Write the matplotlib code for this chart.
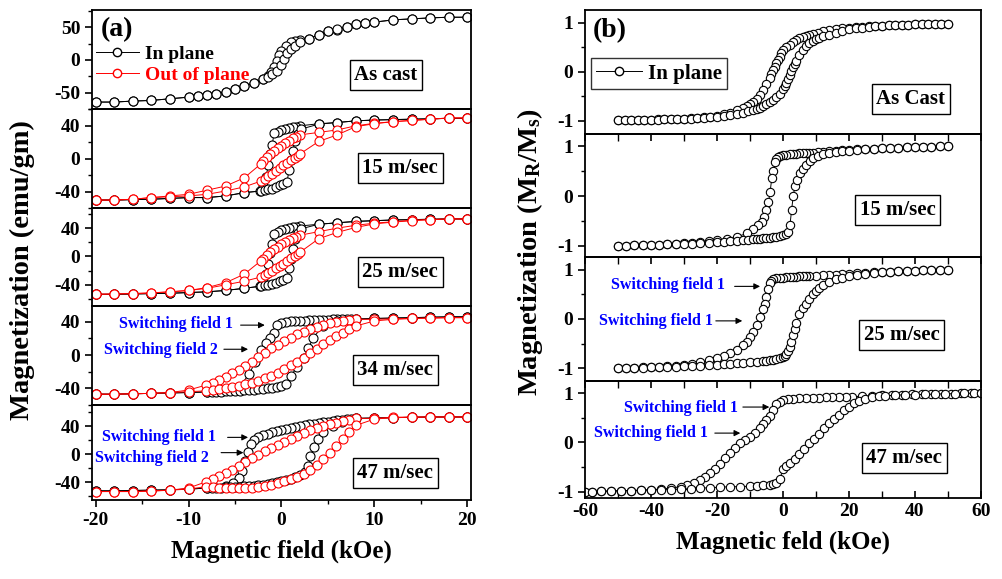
import matplotlib
matplotlib.use("Agg")
import matplotlib.pyplot as plt
from matplotlib.lines import Line2D
from matplotlib.ticker import MultipleLocator

plt.rcParams['font.family'] = ['Liberation Serif', 'DejaVu Serif']
plt.rcParams['font.weight'] = 'bold'
plt.rcParams['axes.unicode_minus'] = False
plt.rcParams['mathtext.fontset'] = 'custom'
plt.rcParams['mathtext.rm'] = 'Liberation Serif:bold'
plt.rcParams['mathtext.it'] = 'Liberation Serif:bold'

# ---------------- (a) left column, field in kOe, M in emu/gm ----------------
# as cast, in plane
ac_up_h = [20, 18, 16, 14, 12, 10, 9, 8, 7, 6, 5, 4, 3, 2, 1.5, 1, 0.5, 0, -0.3, -0.5, -0.8, -1.1, -1.5, -2, -3, -4,
           -5, -6, -7, -8, -9, -10, -12, -14, -16, -18, -20]
ac_up_m = [65, 65, 64, 62.5, 61, 57.5, 56, 54, 50, 46, 44, 38.5, 32.5, 31, 29, 27, 22, 14, 7, -2, -11, -19, -24, -28.5,
           -35, -40, -44, -48.5, -51, -53.5, -55, -56.5, -59, -61.5, -62.5, -64, -64]
ac_lo_h = [-20, -18, -16, -14, -12, -10, -9, -8, -7, -6, -5, -4, -3, -2, -1.5, -1, -0.5, -0.1, 0.3, 0.6, 1, 1.5, 2, 3,
           4, 5, 6, 7, 8, 9, 10, 12, 14, 16, 18, 20]
ac_lo_m = [-64, -64, -62.5, -61.5, -59, -56.5, -55, -53.5, -51, -48.5, -44, -40, -35, -29, -26, -22, -16, -8, 2, 10,
           16, 22, 27, 32.5, 38.5, 44, 47, 50, 54, 56, 57.5, 61, 62.5, 64, 65, 65]

# 15 m/sec
s15_ip_up_h = [20, 18, 16, 14, 12, 10, 8, 6, 4, 2, 1.6, 1.2, 0.8, 0.4, 0, -0.4, -0.8, -1.0, -1.2, -1.4, -1.7, -2.0,
               -2.3, -4, -6, -8, -10, -12, -14, -16, -18, -20]
s15_ip_up_m = [49, 49, 48.5, 48, 47.5, 47, 46, 44, 42.5, 40, 39, 38, 37, 36, 35, 33, 31, 17, 6, -8, -22, -33, -39,
               -41, -45, -47, -47, -48, -49, -49.5, -50, -50]
s15_ip_lo_h = [-20, -18, -16, -14, -12, -10, -8, -6, -4, -2.2, -1.8, -1.4, -1.0, -0.6, -0.2, 0.2, 0.6, 0.8, 1.0, 1.2,
               1.5, 1.8, 2.1, 4, 6, 8, 10, 12, 14, 16, 18, 20]
s15_ip_lo_m = [-50, -50, -49.5, -49, -48, -47, -47, -45, -41, -39, -38, -37, -36, -34, -32, -30, -28, -14, -2, 10,
               22, 30, 36, 42, 44, 46, 47, 47.5, 48, 48.5, 49, 49]
s15_op_up_h = [20, 18, 16, 14, 12, 10, 8, 6, 4, 2, 1.6, 1.2, 0.8, 0.4, 0, -0.4, -0.8, -1.2, -1.6, -2.0, -2.2, -4, -6,
               -8, -10, -12, -14, -16, -18, -20]
s15_op_up_m = [49.5, 49.5, 48, 46.5, 45, 43, 40, 35, 32, 29, 27, 25, 22, 19, 16, 13, 10, 6, 2, -3, -6, -23, -33, -38,
               -43, -45, -47, -49, -50, -50]
s15_op_lo_h = [-20, -18, -16, -14, -12, -10, -8, -6, -4, -2.2, -1.8, -1.4, -1.0, -0.6, -0.2, 0.2, 0.6, 1.0, 1.4, 1.8,
               2.0, 4, 6, 8, 10, 12, 14, 16, 18, 20]
s15_op_lo_m = [-50, -50, -49, -47, -46, -45, -43, -39, -34, -27, -24, -21, -18, -15, -11, -8, -5, -2, 1, 4, 6, 21,
               29, 39, 42.5, 45, 46.5, 48, 49.5, 49.5]

# 25 m/sec
s25_ip_up_h = s15_ip_up_h
s25_ip_up_m = [53, 53, 52.5, 52, 51.5, 50.5, 49.5, 47.5, 45.5, 43, 42, 41, 40, 38.5, 37, 35, 32, 18, 5, -10, -25,
               -36, -42, -45, -48, -50, -51, -52, -52.5, -53, -53.5, -53.5]
s25_ip_lo_h = s15_ip_lo_h
s25_ip_lo_m = [-53.5, -53.5, -53, -52.5, -52, -51, -50, -48, -45, -42, -41, -40, -38.5, -37, -35, -33, -30, -16, -3,
               10, 24, 33, 39, 45.5, 47.5, 49.5, 50.5, 51.5, 52, 52.5, 53, 53]
s25_op_up_h = s15_op_up_h
s25_op_up_m = [53, 53, 52, 51, 49, 47, 44, 40, 35, 30, 28, 25.5, 23, 20, 17, 13.5, 10, 6, 2, -3, -6, -25, -37, -44,
               -48, -50, -51.5, -52.5, -53, -53.5]
s25_op_lo_h = s15_op_lo_h
s25_op_lo_m = [-53.5, -53, -52.5, -51.5, -50, -48, -45, -40, -35, -29, -26, -23, -20, -17, -13.5, -10, -6, -2.5, 1,
               4, 6, 25, 34, 41, 46, 48.5, 50.5, 52, 53, 53]

# 34 m/sec
s34_ip_up_h = [20, 18, 16, 14, 12, 10, 8, 7.5, 7, 6.5, 6, 5.5, 5, 4.5, 4, 3.5, 3, 2.5, 2, 1.5, 1, 0.5, 0, -0.5,
               -0.8, -1.2, -1.7, -2.2, -2.8, -3.5, -4.5, -6, -8, -10, -12, -14, -16, -18, -20]
s34_ip_up_m = [46, 46, 45.5, 45, 44.5, 44, 43.5, 43.5, 43.5, 43, 43, 43, 42.5, 42.5, 42.5, 42, 42, 41.5, 41.5, 41,
               40.5, 40, 39, 36, 27, 21, 14, 6, -8, -23, -38, -42, -44, -45, -45.5, -46, -46.5, -47, -47]
s34_ip_lo_h = [-20, -18, -16, -14, -12, -10, -8, -7.5, -7, -6.5, -6, -5.5, -5, -4.5, -4, -3.5, -3, -2.5, -2, -1.5,
               -1, -0.5, 0, 0.5, 1, 1.7, 2.4, 2.9, 3.4, 4.5, 6, 8, 10, 12, 14, 16, 18, 20]
s34_ip_lo_m = [-47, -47, -46.5, -46, -45.5, -45, -44.5, -44.5, -44, -44, -43.5, -43.5, -43, -43, -42.5, -42, -41.5,
               -41, -40.5, -40, -39, -38, -37, -35, -25, -14, -4, 8, 21, 35, 41, 43, 44, 44.5, 45, 45.5, 46, 46]
s34_op_up_h = [20, 18, 16, 14, 12, 10, 8, 7.3, 6.6, 5.9, 5.2, 4.5, 3.8, 3.1, 2.4, 1.7, 1.0, 0.3, -0.4, -1.1, -1.8,
               -2.5, -3.2, -3.9, -4.6, -5.3, -6.0, -6.7, -7.4, -8.1, -10, -12, -14, -16, -18, -20]
s34_op_up_m = [45, 45, 44.5, 44, 43.5, 43, 43, 42.5, 41, 39.5, 38, 36, 33.5, 31, 28, 25, 21, 17, 12.5, 8, 3, -2, -8,
               -13.5, -18, -22, -26, -29.5, -33, -36, -42, -45, -46, -46.5, -47, -47]
s34_op_lo_h = [-20, -18, -16, -14, -12, -10, -8.1, -7.4, -6.7, -6.0, -5.3, -4.6, -3.9, -3.2, -2.5, -1.8, -1.1, -0.4,
               0.3, 1.0, 1.7, 2.4, 3.1, 3.8, 4.5, 5.2, 5.9, 6.6, 7.3, 8, 10, 12, 14, 16, 18, 20]
s34_op_lo_m = [-47, -47, -46.5, -46, -45, -44, -43, -42, -41, -40, -38.5, -37, -35, -33, -31, -28, -25, -21, -17,
               -12.5, -8, -3, 2, 7.5, 13, 18.5, 23, 27, 31, 35, 41, 43, 44, 44.5, 45, 45]

# 47 m/sec
s47_ip_up_h = [20, 18, 16, 14, 12, 10, 8, 7.5, 7, 6.5, 6, 5.5, 5, 4.5, 4, 3.5, 3, 2.5, 2, 1.5, 1, 0.5, 0, -0.5, -1,
               -1.5, -2, -2.5, -3, -3.3, -3.6, -3.9, -4.2, -4.6, -5.2, -6, -8, -10, -12, -14, -16, -18, -20]
s47_ip_up_m = [53, 53, 53, 52.5, 52, 51.5, 51, 50.5, 50, 49, 48.5, 47.5, 46.5, 45.5, 44.5, 43.5, 42.5, 41.5, 40.5,
               39, 37.5, 36, 34.5, 33, 31, 29, 27, 24, 20, 14, 3, -10, -24, -34, -41, -45, -48, -49.5, -50.5, -51,
               -51.5, -52, -52]
s47_ip_lo_h = [-20, -18, -16, -14, -12, -10, -8, -7.5, -7, -6.5, -6, -5.5, -5, -4.5, -4, -3.5, -3, -2.5, -2, -1.5,
               -1, -0.5, 0, 0.5, 1, 1.5, 2, 2.5, 2.9, 3.1, 3.5, 3.9, 4.5, 5.5, 6.5, 8, 10, 12, 14, 16, 18, 20]
s47_ip_lo_m = [-52, -52, -51.5, -51, -50.5, -49.5, -48, -48, -47.5, -47.5, -47, -47, -46.5, -46, -45.5, -45, -44.5,
               -44, -43, -42, -41, -40, -38.5, -37, -35, -33, -30, -25, -17, -3, 11, 22, 32, 40, 46, 51, 51.5, 52,
               52.5, 53, 53, 53]
s47_op_up_h = s34_op_up_h
s47_op_up_m = [53, 53, 53, 53, 52.5, 51, 51, 49, 47, 45, 42.5, 40, 37, 34, 30, 26, 22, 17, 13, 9, 4, -1, -6, -11,
               -17, -22, -27, -31, -35, -39, -48, -51, -52, -53, -53, -53]
s47_op_lo_h = s34_op_lo_h
s47_op_lo_m = [-53, -53, -53, -52.5, -51, -49.5, -46, -47, -47.5, -48, -48, -48, -48, -47.5, -47, -45.5, -43.5, -41,
               -38.5, -35.5, -32, -28, -22, -15, -7, 2, 12, 22, 32, 41, 50, 52, 52.5, 53, 53, 53]

# ---------------- (b) right column, M_R/M_s ----------------
b_ac_up_h = [50, 48, 46, 44, 42, 40, 38, 36, 34, 32, 30, 28, 26, 24, 22, 20, 18, 16, 14, 12, 10.5, 9, 8, 7, 6, 5, 4,
             3, 2, 1, 0, -0.5, -1, -1.5, -2, -2.5, -3, -3.5, -4, -5, -6, -7, -8, -9, -10, -11, -12, -14, -16, -18,
             -20, -22, -24, -26, -28, -30, -32, -34, -36, -38, -40, -42, -44, -46, -48, -50]
b_ac_up_m = [0.98, 0.98, 0.98, 0.97, 0.97, 0.97, 0.96, 0.96, 0.95, 0.95, 0.94, 0.93, 0.93, 0.92, 0.91, 0.9, 0.89,
             0.87, 0.85, 0.83, 0.8, 0.77, 0.75, 0.73, 0.71, 0.68, 0.64, 0.6, 0.55, 0.5, 0.44, 0.38, 0.31, 0.24, 0.17,
             0.1, 0.03, -0.05, -0.12, -0.25, -0.37, -0.47, -0.55, -0.61, -0.66, -0.7, -0.73, -0.79, -0.84, -0.87,
             -0.9, -0.92, -0.93, -0.94, -0.95, -0.96, -0.96, -0.97, -0.97, -0.97, -0.98, -0.98, -0.98, -0.98, -0.99,
             -0.99]
b_ac_lo_h = [-50, -48, -46, -44, -42, -40, -38, -36, -34, -32, -30, -28, -26, -24, -22, -20, -18, -16, -14, -12,
             -10.5, -9, -8, -7, -6, -5, -4, -3, -2, -1, 0, 0.5, 1, 1.5, 2, 2.5, 3, 3.5, 4, 5, 6, 7, 8, 9, 10, 11, 12,
             14, 16, 18, 20, 22, 24, 26, 28, 30, 32, 34, 36, 38, 40, 42, 44, 46, 48, 50]
b_ac_lo_m = [-0.99, -0.99, -0.99, -0.98, -0.98, -0.98, -0.98, -0.97, -0.97, -0.97, -0.96, -0.96, -0.95, -0.94,
             -0.93, -0.92, -0.91, -0.89, -0.87, -0.84, -0.81, -0.78, -0.76, -0.73, -0.7, -0.66, -0.62, -0.57, -0.51,
             -0.45, -0.36, -0.3, -0.22, -0.15, -0.06, 0.02, 0.09, 0.15, 0.22, 0.34, 0.45, 0.53, 0.58, 0.63, 0.66,
             0.69, 0.72, 0.76, 0.8, 0.84, 0.87, 0.89, 0.9, 0.92, 0.93, 0.94, 0.95, 0.95, 0.96, 0.96, 0.97, 0.97,
             0.97, 0.98, 0.98, 0.98]

b15_up_h = [50, 47.5, 45, 42.5, 40, 37.5, 35, 32.5, 30, 27.5, 25, 22.5, 20, 18, 16, 14, 12, 10.5, 9, 8, 7, 6, 5, 4,
            3, 2, 1, 0, -1, -1.5, -2, -2.4, -2.9, -3.4, -3.9, -4.4, -5.2, -5.8, -6.5, -7.5, -9, -11, -14, -17, -20,
            -22.5, -25, -27.5, -30, -32.5, -35, -37.5, -40, -42.5, -45, -47.5, -50]
b15_up_m = [1.0, 1.0, 0.99, 0.99, 0.98, 0.98, 0.97, 0.97, 0.96, 0.95, 0.95, 0.94, 0.93, 0.92, 0.91, 0.9, 0.89, 0.88,
            0.87, 0.87, 0.86, 0.86, 0.86, 0.85, 0.85, 0.84, 0.83, 0.82, 0.8, 0.78, 0.75, 0.68, 0.5, 0.36, 0.09,
            -0.12, -0.28, -0.42, -0.52, -0.59, -0.67, -0.75, -0.82, -0.86, -0.89, -0.91, -0.93, -0.94, -0.95, -0.96,
            -0.97, -0.98, -0.98, -0.99, -0.99, -1.0, -1.0]
b15_lo_h = [-50, -47.5, -45, -42.5, -40, -37.5, -35, -32.5, -30, -27.5, -25, -22.5, -20, -18, -16, -14, -12, -10.5,
            -9, -8, -7, -6, -5, -4, -3, -2, -1, 0, 0.8, 1.6, 2.1, 2.6, 3.1, 3.6, 4.1, 5.1, 6.1, 7.1, 8.2, 9.2, 10.5,
            12, 14, 16, 18, 20, 22.5, 25, 27.5, 30, 32.5, 35, 37.5, 40, 42.5, 45, 47.5, 50]
b15_lo_m = [-1.0, -1.0, -0.99, -0.99, -0.98, -0.98, -0.97, -0.97, -0.96, -0.96, -0.95, -0.94, -0.93, -0.92, -0.91,
            -0.9, -0.89, -0.88, -0.87, -0.86, -0.86, -0.85, -0.85, -0.84, -0.83, -0.82, -0.81, -0.79, -0.77, -0.73,
            -0.59, -0.28, 0.0, 0.2, 0.33, 0.46, 0.55, 0.62, 0.7, 0.76, 0.8, 0.84, 0.87, 0.89, 0.9, 0.91, 0.93, 0.94,
            0.95, 0.96, 0.97, 0.97, 0.98, 0.98, 0.99, 0.99, 1.0, 1.0]

b25_up_h = [50, 47.5, 45, 42.5, 40, 37.5, 35, 32.5, 30, 27.5, 25, 22.5, 20, 18, 16, 14, 12, 10, 8, 7, 6, 5, 4, 3, 2,
            1, 0, -1, -2, -3, -3.5, -4, -4.5, -5, -5.5, -6, -7, -8, -9, -10, -11, -12, -14, -16, -18, -20, -22.5,
            -25, -27.5, -30, -32.5, -35, -37.5, -40, -42.5, -45, -47.5, -50]
b25_up_m = [1.0, 1.0, 0.99, 0.99, 0.98, 0.98, 0.97, 0.96, 0.96, 0.95, 0.94, 0.93, 0.92, 0.91, 0.9, 0.9, 0.89, 0.88,
            0.88, 0.87, 0.87, 0.87, 0.86, 0.86, 0.85, 0.85, 0.84, 0.83, 0.82, 0.8, 0.77, 0.72, 0.6, 0.45, 0.3, 0.2,
            0.04, -0.12, -0.26, -0.37, -0.46, -0.53, -0.63, -0.7, -0.75, -0.8, -0.84, -0.88, -0.91, -0.93, -0.95,
            -0.96, -0.97, -0.98, -0.98, -0.99, -1.0, -1.0]
b25_lo_h = [-50, -47.5, -45, -42.5, -40, -37.5, -35, -32.5, -30, -27.5, -25, -22.5, -20, -18, -16, -14, -12, -10,
            -8, -6, -5, -4, -3, -2, -1, 0, 0.5, 1, 1.5, 2, 2.5, 3, 3.5, 4, 5, 6, 7, 8, 9, 10, 11, 12, 14, 16, 18, 20,
            22.5, 25, 27.5, 30, 32.5, 35, 37.5, 40, 42.5, 45, 47.5, 50]
b25_lo_m = [-1.0, -1.0, -0.99, -0.99, -0.98, -0.98, -0.97, -0.97, -0.96, -0.96, -0.95, -0.94, -0.93, -0.92, -0.91,
            -0.9, -0.89, -0.88, -0.87, -0.86, -0.85, -0.84, -0.83, -0.82, -0.8, -0.78, -0.76, -0.72, -0.66, -0.58,
            -0.46, -0.32, -0.2, -0.09, 0.1, 0.22, 0.31, 0.4, 0.5, 0.57, 0.63, 0.68, 0.75, 0.8, 0.84, 0.87, 0.9,
            0.92, 0.94, 0.95, 0.96, 0.97, 0.98, 0.98, 0.99, 0.99, 1.0, 1.0]

b47_up_h = [60, 57, 54, 51, 48, 45, 42, 39, 36, 33, 30, 27, 24, 21, 19, 17, 15, 13, 11, 9, 7, 5, 3, 1.5, 0, -1, -2,
            -3, -4, -5, -6, -7, -8.5, -10, -11.5, -13, -14.5, -16, -17.5, -19, -20.5, -22, -23.5, -25, -27, -29,
            -31, -34, -37, -40, -43, -46, -49, -52, -55, -58, -60]
b47_up_m = [1.0, 1.0, 1.0, 0.99, 0.99, 0.99, 0.98, 0.98, 0.97, 0.97, 0.96, 0.95, 0.94, 0.93, 0.93, 0.92, 0.92, 0.92,
            0.91, 0.91, 0.9, 0.9, 0.89, 0.88, 0.86, 0.83, 0.78, 0.66, 0.53, 0.46, 0.38, 0.29, 0.2, 0.12, 0.05,
            -0.02, -0.12, -0.22, -0.32, -0.43, -0.53, -0.62, -0.7, -0.76, -0.82, -0.87, -0.9, -0.93, -0.95, -0.96,
            -0.97, -0.98, -0.98, -0.99, -0.99, -1.0, -1.0]
b47_lo_h = [-60, -58, -55, -52, -49, -46, -43, -40, -37, -34, -31, -28, -25, -22, -19, -16, -13, -10, -8, -6, -4,
            -3, -2, -1, 0, 1, 2, 3.5, 5, 6.5, 8, 9.5, 11, 12.5, 14, 15.5, 17, 18.5, 20, 21.5, 23, 25, 27, 29, 31,
            34, 37, 40, 43, 46, 49, 52, 55, 58, 60]
b47_lo_m = [-1.0, -1.0, -0.99, -0.99, -0.98, -0.98, -0.97, -0.97, -0.96, -0.96, -0.95, -0.94, -0.93, -0.92, -0.91,
            -0.9, -0.9, -0.89, -0.88, -0.87, -0.86, -0.85, -0.83, -0.75, -0.55, -0.47, -0.42, -0.33, -0.23, -0.13,
            -0.02, 0.08, 0.18, 0.29, 0.39, 0.48, 0.56, 0.65, 0.73, 0.8, 0.85, 0.89, 0.92, 0.94, 0.95, 0.96, 0.97,
            0.97, 0.98, 0.98, 0.99, 0.99, 1.0, 1.0, 1.0]

left_labels = ["As cast", "15 m/sec", "25 m/sec", "34 m/sec", "47 m/sec"]
right_labels = ["As Cast", "15 m/sec", "25 m/sec", "47 m/sec"]

W, H = 1003, 579
fig = plt.figure(figsize=(W / 100, H / 100), dpi=100)


def px_axes(x0, x1, y0, y1):
    return fig.add_axes([x0 / W, 1 - y1 / H, (x1 - x0) / W, (y1 - y0) / H])


def loop(ax, h, m, color, ms=6.5):
    ax.plot(h, m, '-', color=color, lw=0.7, marker='o', ms=ms, mfc='white', mec=color, mew=0.8)


def label_box(ax, x, y, s):
    ax.text(x, y, s, transform=ax.transAxes, ha='center', va='center', fontsize=15, fontweight='bold',
            bbox=dict(boxstyle='square,pad=0.22', fc='white', ec='black', lw=1.0), zorder=5)


def style(ax):
    for sp in ax.spines.values():
        sp.set_linewidth(1.3)
    ax.tick_params(axis='both', which='major', labelsize=14, width=1.2, length=5, direction='out')
    ax.tick_params(axis='both', which='minor', width=1.0, length=3, direction='out')
    ax.tick_params(right=False, top=False)


# left column
left_edges = [10, 109.3, 208.3, 306, 405, 500]
left_ylims = [(-75, 76), (-60, 60), (-70, 68), (-60, 59), (-65, 70)]
left_curves = [
    [(ac_up_h, ac_up_m, 'black'), (ac_lo_h, ac_lo_m, 'black')],
    [(s15_ip_up_h, s15_ip_up_m, 'black'), (s15_ip_lo_h, s15_ip_lo_m, 'black'),
     (s15_op_up_h, s15_op_up_m, 'red'), (s15_op_lo_h, s15_op_lo_m, 'red')],
    [(s25_ip_up_h, s25_ip_up_m, 'black'), (s25_ip_lo_h, s25_ip_lo_m, 'black'),
     (s25_op_up_h, s25_op_up_m, 'red'), (s25_op_lo_h, s25_op_lo_m, 'red')],
    [(s34_ip_up_h, s34_ip_up_m, 'black'), (s34_ip_lo_h, s34_ip_lo_m, 'black'),
     (s34_op_up_h, s34_op_up_m, 'red'), (s34_op_lo_h, s34_op_lo_m, 'red')],
    [(s47_ip_up_h, s47_ip_up_m, 'black'), (s47_ip_lo_h, s47_ip_lo_m, 'black'),
     (s47_op_up_h, s47_op_up_m, 'red'), (s47_op_lo_h, s47_op_lo_m, 'red')],
]
left_box_pos = [(0.776, 0.345), (0.813, 0.407), (0.813, 0.348), (0.80, 0.354), (0.80, 0.284)]
left_axes = []
for i in range(5):
    ax = px_axes(92, 471, left_edges[i], left_edges[i + 1])
    for h, m, c in left_curves[i]:
        loop(ax, h, m, c)
    ax.set_xlim(-20.4, 20.4)
    ax.set_ylim(*left_ylims[i])
    if i == 0:
        ax.yaxis.set_major_locator(MultipleLocator(50))
        ax.yaxis.set_minor_locator(MultipleLocator(25))
    else:
        ax.yaxis.set_major_locator(MultipleLocator(40))
        ax.yaxis.set_minor_locator(MultipleLocator(20))
    ax.xaxis.set_major_locator(MultipleLocator(10))
    ax.xaxis.set_minor_locator(MultipleLocator(5))
    style(ax)
    if i < 4:
        ax.tick_params(axis='x', which='both', bottom=False, labelbottom=False)
    ax.patch.set_alpha(0)
    label_box(ax, left_box_pos[i][0], left_box_pos[i][1], left_labels[i])
    left_axes.append(ax)

left_axes[0].text(0.066, 0.80, "(a)", transform=left_axes[0].transAxes, ha='center', va='center', fontsize=20,
                  fontweight='bold')
leg = left_axes[0].legend(
    [Line2D([], [], color='black', lw=0.7, marker='o', ms=6, mfc='white', mec='black'),
     Line2D([], [], color='red', lw=0.7, marker='o', ms=6, mfc='white', mec='red')],
    ["In plane", "Out of plane"], loc='upper left', bbox_to_anchor=(-0.01, 0.72), frameon=False, fontsize=14,
    handlelength=2.2, handletextpad=0.3, labelspacing=0.15, borderaxespad=0)
for t, c in zip(leg.get_texts(), ['black', 'red']):
    t.set_color(c)

arrow = dict(arrowstyle='-|>', color='black', lw=0.8, mutation_scale=9)
ann_kw = dict(color='blue', fontsize=11.5, fontweight='bold', ha='right', va='center')
ax = left_axes[3]
ax.text(-5.2, 37, "Switching field 1", **ann_kw)
ax.annotate('', xy=(-1.5, 36), xytext=(-4.7, 36), arrowprops=arrow)
ax.text(-6.8, 6, "Switching field 2", **ann_kw)
ax.annotate('', xy=(-3.3, 7), xytext=(-6.5, 7), arrowprops=arrow)
ax = left_axes[4]
ax.text(-7.0, 24, "Switching field 1", **ann_kw)
ax.annotate('', xy=(-3.3, 24), xytext=(-6.1, 24), arrowprops=arrow)
ax.text(-7.8, -5, "Switching field 2", **ann_kw)
ax.annotate('', xy=(-3.8, 2.3), xytext=(-6.8, 2.3), arrowprops=arrow)
left_axes[4].set_xlabel("Magnetic field (kOe)", fontsize=18, fontweight='bold', labelpad=8)

# right column
right_edges = [10, 134, 257.3, 381, 498]
right_ylims = [(-1.27, 1.26), (-1.23, 1.25), (-1.26, 1.25), (-1.13, 1.25)]
right_curves = [
    [(b_ac_up_h, b_ac_up_m), (b_ac_lo_h, b_ac_lo_m)],
    [(b15_up_h, b15_up_m), (b15_lo_h, b15_lo_m)],
    [(b25_up_h, b25_up_m), (b25_lo_h, b25_lo_m)],
    [(b47_up_h, b47_up_m), (b47_lo_h, b47_lo_m)],
]
right_box_pos = [(0.823, 0.282), (0.79, 0.384), (0.80, 0.372), (0.806, 0.342)]
right_axes = []
for i in range(4):
    ax = px_axes(585, 981, right_edges[i], right_edges[i + 1])
    for h, m in right_curves[i]:
        loop(ax, h, m, 'black', ms=6)
    ax.set_xlim(-60, 60)
    ax.set_ylim(*right_ylims[i])
    ax.yaxis.set_major_locator(MultipleLocator(1))
    ax.yaxis.set_minor_locator(MultipleLocator(0.5))
    ax.xaxis.set_major_locator(MultipleLocator(20))
    ax.xaxis.set_minor_locator(MultipleLocator(10))
    style(ax)
    if i < 3:
        ax.tick_params(axis='x', which='both', bottom=False, labelbottom=False)
    if i > 0:
        ax.tick_params(axis='x', which='both', top=True, direction='in', length=5)
    ax.patch.set_alpha(0)
    label_box(ax, right_box_pos[i][0], right_box_pos[i][1], right_labels[i])
    right_axes.append(ax)

right_axes[0].text(0.063, 0.83, "(b)", transform=right_axes[0].transAxes, ha='center', va='center', fontsize=20,
                   fontweight='bold')
right_axes[0].legend([Line2D([], [], color='black', lw=0.7, marker='o', ms=6, mfc='white', mec='black')],
                     ["In plane"], loc='upper left', bbox_to_anchor=(0.015, 0.61), frameon=True, fancybox=False,
                     edgecolor='black', fontsize=15, handlelength=2.2, handletextpad=0.3, borderpad=0.25,
                     borderaxespad=0).get_frame().set_linewidth(1.0)

ax = right_axes[2]
ax.text(-17.6, 0.69, "Switching field 1", **ann_kw)
ax.annotate('', xy=(-6.1, 0.66), xytext=(-15.5, 0.66), arrowprops=arrow)
ax.text(-21.2, -0.05, "Switching field 1", **ann_kw)
ax.annotate('', xy=(-11.5, -0.04), xytext=(-21.2, -0.04), arrowprops=arrow)
ax = right_axes[3]
ax.text(-13.6, 0.70, "Switching field 1", **ann_kw)
ax.annotate('', xy=(-3.3, 0.72), xytext=(-13.0, 0.72), arrowprops=arrow)
ax.text(-22.7, 0.19, "Switching field 1", **ann_kw)
ax.annotate('', xy=(-12.1, 0.19), xytext=(-21.5, 0.19), arrowprops=arrow)
right_axes[3].set_xlabel("Magnetic feld (kOe)", fontsize=18, fontweight='bold', labelpad=8)

fig.text(0.022, 0.534, "Magnetization (emu/gm)", rotation=90, ha='center', va='center', fontsize=20.5,
         fontweight='bold')
fig.text(0.528, 0.565, r"Magnetization (M$_\mathregular{R}$/M$_\mathregular{s}$)", rotation=90, ha='center',
         va='center', fontsize=20.5, fontweight='bold')

fig.savefig("out.png", dpi=100)
